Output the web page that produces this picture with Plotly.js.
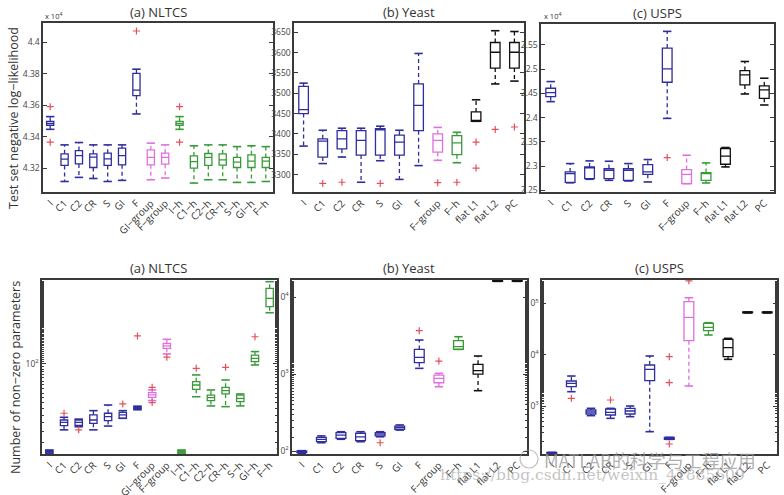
<!DOCTYPE html>
<html><head><meta charset="utf-8">
<script src="https://cdn.plot.ly/plotly-3.0.1.min.js"></script>
<style>html,body{margin:0;padding:0;background:#fff}#chart{width:784px;height:495px}</style>
</head><body><div id="chart"></div>
<script>
// ---------------- DATA ----------------
const catsNltcs = ['I','C1','C2','CR','S','GI','F','GI\u2212group','F\u2212group','I\u2212h','C1\u2212h','C2\u2212h','CR\u2212h','S\u2212h','GI\u2212h','F\u2212h'];
const groupNltcs = ['b','b','b','b','b','b','b','m','m','g','g','g','g','g','g','g'];
const catsYU = ['I','C1','C2','CR','S','GI','F','F\u2212group','F\u2212h','flat L1','flat L2','PC'];
const groupYU = ['b','b','b','b','b','b','b','m','g','k','k','k'];

// (a) NLTCS, test set NLL (x 10^4)
const nllA_q1  = [4.3473,4.3217,4.3227,4.3204,4.3217,4.3221,4.3661,4.3221,4.3225,4.3473,4.3200,4.3217,4.3219,4.3204,4.3204,4.3204];
const nllA_med = [4.3485,4.3257,4.3280,4.3270,4.3259,4.3280,4.3697,4.3268,4.3268,4.3485,4.3242,4.3268,4.3253,4.3238,4.3244,4.3244];
const nllA_q3  = [4.3498,4.3291,4.3312,4.3291,4.3295,4.3327,4.3803,4.3316,4.3295,4.3498,4.3278,4.3293,4.3291,4.3268,4.3285,4.3268];
const nllA_lo  = [4.3447,4.3115,4.3141,4.3134,4.3115,4.3122,4.3545,4.3126,4.3137,4.3447,4.3105,4.3126,4.3126,4.3109,4.3109,4.3115];
const nllA_hi  = [4.3528,4.3348,4.3363,4.3348,4.3348,4.3348,4.3830,4.3359,4.3348,4.3528,4.3342,4.3348,4.3348,4.3337,4.3342,4.3337];
const nllA_outCat = ['I','I','F','I\u2212h','I\u2212h'];
const nllA_outVal = [4.3591,4.3365,4.4073,4.3591,4.3365];

// (b) Yeast, test set NLL
const nllB_q1  = [3450,3343,3363,3348,3348,3348,3408,3355,3349,3431,3562,3562];
const nllB_med = [3460,3382,3388,3384,3410,3380,3470,3384,3378,3433,3601,3601];
const nllB_q3  = [3517,3388,3408,3408,3413,3397,3523,3400,3396,3454,3625,3625];
const nllB_lo  = [3370,3327,3343,3281,3334,3288,3322,3335,3329,3431,3523,3530];
const nllB_hi  = [3525,3409,3414,3414,3419,3409,3598,3416,3404,3484,3654,3652];
const nllB_outCat = ['C1','C2','S','F\u2212group','F\u2212h','flat L1','flat L1','flat L2','PC'];
const nllB_outVal = [3278,3281,3278,3280,3281,3380,3316,3411,3417];

// (c) USPS, test set NLL (x 10^4)
const nllC_q1  = [2.4432,2.2666,2.2741,2.2741,2.2707,2.2831,2.4729,2.2638,2.2707,2.3038,2.4674,2.4398];
const nllC_med = [2.4515,2.2845,2.2962,2.2914,2.2914,2.2880,2.5005,2.2831,2.2845,2.3204,2.4880,2.4570];
const nllC_q3  = [2.4605,2.2880,2.2983,2.2949,2.2949,2.3031,2.5433,2.2928,2.2866,2.3363,2.4970,2.4653];
const nllC_lo  = [2.4329,2.2655,2.2728,2.2707,2.2693,2.2673,2.3984,2.2638,2.2652,2.2983,2.4487,2.4260];
const nllC_hi  = [2.4743,2.3052,2.3107,2.3100,2.3052,2.3135,2.5778,2.3224,2.3066,2.3383,2.5157,2.4812];
const nllC_outCat = ['F'];
const nllC_outVal = [2.3176];

// (a) NLTCS, number of non-zero parameters
const nzA_q1  = [16,28.1,28.3,29.5,31.2,32.7,39.4,50.4,138,16,59.4,47.1,54.0,46.1,105,325];
const nzA_med = [16.5,30.1,30.1,31.6,33.9,35.1,40.5,52.9,145,16.5,64.9,50.0,57.8,49.3,112,385];
const nzA_q3  = [17,31.6,31.6,35.1,36.3,36.9,41.6,55.5,153,17,69.5,52.8,61.9,52.8,120,474];
const nzA_lo  = [16,25.8,27.5,25.8,27.9,32.7,39.0,47.1,123,16,51.0,42.2,41.6,42.2,98,287];
const nzA_hi  = [17,33.4,32.2,38.3,43.0,38.3,42.0,58.6,166,17,79.8,58.6,72.0,54.0,129,543];
const nzA_outCat = ['C1','C2','GI','F','GI\u2212group','GI\u2212group','F\u2212group','C1\u2212h','CR\u2212h','GI\u2212h'];
const nzA_outVal = [36.3,25.8,44,178,61.9,45.2,115,91.5,93.4,175];

// (b) Yeast, number of non-zero parameters
const nzB_q1  = [95,132,146,136,157,191,1403,771,2090,1000,16000,16000];
const nzB_med = [97,142,161,153,166,201,1645,879,2265,1105,16300,16300];
const nzB_q3  = [100,150,173,170,173,211,2090,970,2710,1336,16500,16500];
const nzB_lo  = [93,128,142,132,153,187,1186,684,2090,608,16000,16000];
const nzB_hi  = [101,157,178,178,178,218,2767,1021,3055,1714,16500,16500];
const nzB_outCat = ['S','F','F\u2212group'];
const nzB_outVal = [128,3656,1475];

// (c) USPS, number of non-zero parameters
const nzC_q1  = [117,2381,699,668,699,3120,224,18750,29400,9140,65000,65000];
const nzC_med = [120,2766,764,753,799,5180,234,53300,34000,13700,66500,66500];
const nzC_q3  = [125,3069,836,875,901,6300,245,107700,40800,19900,68000,68000];
const nzC_lo  = [116,1900,649,575,620,316,224,2450,24200,8110,65000,65000];
const nzC_hi  = [125,3839,901,901,1000,9420,245,128800,42000,20800,68000,68000];
const nzC_outCat = ['C1','CR','F','F','F','F\u2212group'];
const nzC_outVal = [1409,1309,9140,2850,182,275000];

// ---------------- STYLE ----------------
const COLORS = {b:'#2e2e9e', m:'#e070e0', g:'#3a9a3a', k:'#111111'};
const OUTLIER = '#e5505a';
const FONT = 'Open Sans';
const W = 784, H = 495;
const px = v => v / W, py = v => 1 - v / H;

const traces = [];
function addPanel(n, cats, groups, q1, med, q3, lo, hi, outCat, outVal) {
  const xa = n === 1 ? 'x' : 'x' + n, ya = n === 1 ? 'y' : 'y' + n;
  ['b','m','g','k'].forEach(g => {
    const idx = cats.map((c, i) => i).filter(i => groups[i] === g);
    if (!idx.length) return;
    const col = COLORS[g];
    traces.push({type:'box', xaxis:xa, yaxis:ya, x: idx.map(i => cats[i]),
      q1: idx.map(i => q1[i]), median: idx.map(i => med[i]), q3: idx.map(i => q3[i]),
      lowerfence: idx.map(i => q1[i]), upperfence: idx.map(i => q3[i]),
      width: 0.5, whiskerwidth: 0, line:{color: col, width: 1.3},
      fillcolor:'rgba(0,0,0,0)', boxpoints:false, hoverinfo:'skip', showlegend:false});
    const wx = [], wy = [];
    idx.forEach(i => { wx.push(cats[i], cats[i], null, cats[i], cats[i], null);
                       wy.push(q3[i], hi[i], null, q1[i], lo[i], null); });
    traces.push({type:'scatter', mode:'lines', xaxis:xa, yaxis:ya, x:wx, y:wy,
      line:{color: col, width: 1.3, dash:'4px,3px'}, hoverinfo:'skip', showlegend:false, connectgaps:false});
    const cx = [], cy = [];
    idx.forEach(i => { cx.push(cats[i], cats[i]); cy.push(hi[i], lo[i]); });
    traces.push({type:'scatter', mode:'markers', xaxis:xa, yaxis:ya, x:cx, y:cy,
      marker:{symbol:'line-ew', size:6, line:{color: col, width:1.6}}, hoverinfo:'skip', showlegend:false});
  });
  traces.push({type:'scatter', mode:'markers', xaxis:xa, yaxis:ya, x: outCat, y: outVal,
    marker:{symbol:'cross-thin', size:5, line:{color: OUTLIER, width:1.2}}, hoverinfo:'skip', showlegend:false});
}

addPanel(1, catsNltcs, groupNltcs, nllA_q1, nllA_med, nllA_q3, nllA_lo, nllA_hi, nllA_outCat, nllA_outVal);
addPanel(2, catsYU, groupYU, nllB_q1, nllB_med, nllB_q3, nllB_lo, nllB_hi, nllB_outCat, nllB_outVal);
addPanel(3, catsYU, groupYU, nllC_q1, nllC_med, nllC_q3, nllC_lo, nllC_hi, nllC_outCat, nllC_outVal);
addPanel(4, catsNltcs, groupNltcs, nzA_q1, nzA_med, nzA_q3, nzA_lo, nzA_hi, nzA_outCat, nzA_outVal);
addPanel(5, catsYU, groupYU, nzB_q1, nzB_med, nzB_q3, nzB_lo, nzB_hi, nzB_outCat, nzB_outVal);
addPanel(6, catsYU, groupYU, nzC_q1, nzC_med, nzC_q3, nzC_lo, nzC_hi, nzC_outCat, nzC_outVal);

function xax(cats, l, r, anchor) {
  return {domain:[px(l), px(r)], anchor, type:'category', categoryorder:'array', categoryarray:cats,
    range:[-0.5, cats.length - 0.5], tickangle:-45, tickfont:{family:FONT, size:10, color:'#333'},
    showline:true, mirror:true, linecolor:'#3a3a3a', linewidth:1.6, ticks:'', showgrid:false, zeroline:false, fixedrange:true};
}
function yax(t, b, anchor, range, tv, tt, extra) {
  return Object.assign({domain:[py(b), py(t)], anchor, range, tickvals:tv, ticktext:tt,
    ticks:'inside', ticklen:4, tickcolor:'#3a3a3a', tickfont:{family:FONT, size:8.5, color:'#444'},
    showline:true, mirror:'ticks', linecolor:'#3a3a3a', linewidth:1.6, showgrid:false, zeroline:false, fixedrange:true}, extra || {});
}
const minorLog = {minor:{ticks:'inside', ticklen:2, tickcolor:'#3a3a3a', showgrid:false}};

const ann = [];
function txt(x, y, text, size, extra) {
  ann.push(Object.assign({xref:'paper', yref:'paper', x:px(x), y:py(y), text, showarrow:false,
    font:{family:FONT, size, color:'#333'}, xanchor:'center', yanchor:'middle'}, extra || {}));
}
txt(158, 12, '(a) NLTCS', 13);
txt(409, 12, '(b) Yeast', 13);
txt(657, 13, '(c) USPS', 13);
txt(158, 268, '(a) NLTCS', 13);
txt(409, 268, '(b) Yeast', 13);
txt(659, 268, '(c) USPS', 13);
txt(14, 118, 'Test set negative log\u2212likelihood', 12.5, {textangle:-90});
txt(15, 378, 'Number of non\u2212zero parameters', 12.5, {textangle:-90});
txt(43, 16, 'x 10<sup>4</sup>', 7.5, {xanchor:'left'});
txt(542, 16, 'x 10<sup>4</sup>', 7.5, {xanchor:'left'});
txt(650, 460, 'MATLAB的科学与工程应用', 18, {font:{family:'Noto Sans CJK SC', size:18, color:'rgba(150,150,150,0.75)'}});
txt(592, 475, 'https://blog.csdn.net/weixin_41885609', 15.5, {font:{family:'DejaVu Serif', size:15.5, color:'rgba(170,170,170,0.7)'}});

const layout = {
  width:W, height:H, margin:{l:0, r:0, t:0, b:0}, paper_bgcolor:'#fff', plot_bgcolor:'#fff',
  showlegend:false, boxmode:'overlay', font:{family:FONT},
  xaxis:  xax(catsNltcs, 43, 273, 'y'),
  yaxis:  yax(23, 192, 'x', [4.3048, 4.4124], [4.32,4.34,4.36,4.38,4.4], ['4.32','4.34','4.36','4.38','4.4']),
  xaxis2: xax(catsYU, 294, 524, 'y2'),
  yaxis2: yax(23, 192, 'x2', [3257, 3673], [3300,3350,3400,3450,3500,3550,3600,3650], ['3300','3350','3400','3450','3500','3550','3600','3650']),
  xaxis3: xax(catsYU, 541, 774, 'y3'),
  yaxis3: yax(24, 192, 'x3', [2.2466, 2.593], [2.25,2.3,2.35,2.4,2.45,2.5,2.55], ['2.25','2.3','2.35','2.4','2.45','2.5','2.55']),
  xaxis4: xax(catsNltcs, 42, 277, 'y4'),
  yaxis4: yax(280, 454, 'x4', [1.196, 2.75], [100], ['10<sup>2</sup>'], Object.assign({type:'log'}, minorLog)),
  xaxis5: xax(catsYU, 292, 527, 'y5'),
  yaxis5: yax(280, 454, 'x5', [1.961, 4.222], [100,1000,10000], ['10<sup>2</sup>','10<sup>3</sup>','10<sup>4</sup>'], Object.assign({type:'log'}, minorLog)),
  xaxis6: xax(catsYU, 542, 777, 'y6'),
  yaxis6: yax(280, 454, 'x6', [2.065, 5.455], [1000,10000,100000], ['10<sup>3</sup>','10<sup>4</sup>','10<sup>5</sup>'], Object.assign({type:'log'}, minorLog)),
  annotations: ann,
  shapes: [{type:'circle', xref:'paper', yref:'paper', x0:px(520), x1:px(538), y0:py(468), y1:py(450),
            line:{color:'rgba(150,150,150,0.6)', width:1.2}}]
};
Plotly.newPlot('chart', traces, layout, {displayModeBar:false, staticPlot:true});
</script></body></html>
